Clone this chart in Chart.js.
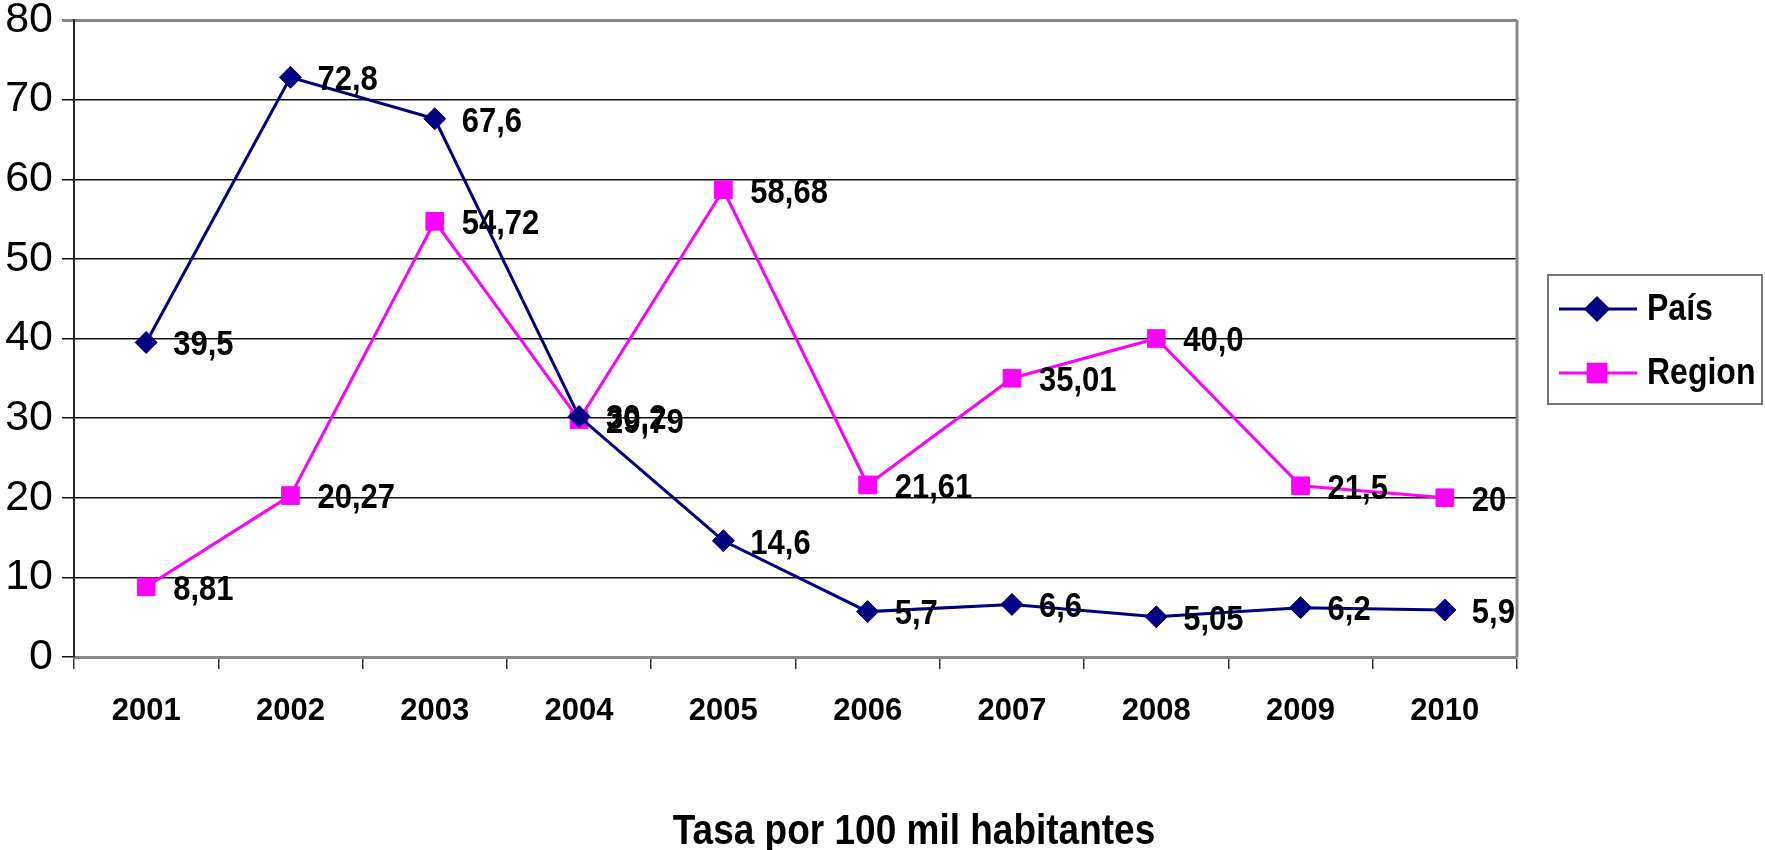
<!DOCTYPE html>
<html>
<head>
<meta charset="utf-8">
<script src="https://cdn.jsdelivr.net/npm/chart.js@4.4.1/dist/chart.umd.min.js"></script>
<style>
  html, body { margin: 0; padding: 0; background: #fff; }
  #wrap { width: 1765px; height: 850px; }
</style>
</head>
<body>
<div id="wrap"><canvas id="c" width="1765" height="850"></canvas></div>
<script>
const categories = ['2001','2002','2003','2004','2005','2006','2007','2008','2009','2010'];
const paisValues = [39.5, 72.8, 67.6, 30.2, 14.6, 5.7, 6.6, 5.05, 6.2, 5.9];
const paisLabels = ['39,5','72,8','67,6','30,2','14,6','5,7','6,6','5,05','6,2','5,9'];
const regionValues = [8.81, 20.27, 54.72, 29.79, 58.68, 21.61, 35.01, 40.0, 21.5, 20];
const regionLabels = ['8,81','20,27','54,72','29,79','58,68','21,61','35,01','40,0','21,5','20'];
const seriesNames = ['País', 'Region'];
const yMin = 0, yMax = 80, yStep = 10;
const xTitle = 'Tasa por 100 mil habitantes';

const FONT = "'Liberation Sans', Arial, sans-serif";
const PAIS_COLOR = '#000080';
const REGION_COLOR = '#FF00FF';
const STRETCH = 1.15;

function stretchedText(ctx, text, x, y) {
  ctx.save();
  ctx.translate(x, y);
  ctx.scale(1, STRETCH);
  ctx.fillText(text, 0, 0);
  ctx.restore();
}

const dataLabelPlugin = {
  id: 'dataLabels',
  afterDatasetsDraw(chart) {
    const ctx = chart.ctx;
    ctx.save();
    ctx.font = "bold 31px " + FONT;
    ctx.fillStyle = '#000';
    ctx.textAlign = 'left';
    ctx.textBaseline = 'middle';
    chart.data.datasets.forEach((ds, di) => {
      const meta = chart.getDatasetMeta(di);
      meta.data.forEach((pt, i) => {
        stretchedText(ctx, ds.valueLabels[i], pt.x + 27, pt.y + 3);
      });
    });
    ctx.restore();
  }
};

const framePlugin = {
  id: 'frame',
  beforeDatasetsDraw(chart) {
    const { ctx, chartArea } = chart;
    ctx.save();
    ctx.strokeStyle = '#888';
    ctx.lineWidth = 3;
    ctx.beginPath();
    ctx.moveTo(chartArea.right, chartArea.top);
    ctx.lineTo(chartArea.right, chartArea.bottom);
    ctx.stroke();
    ctx.restore();
  },
  afterDraw(chart) {
    const ctx = chart.ctx;
    ctx.save();
    // bottom title
    ctx.font = "bold 37px " + FONT;
    ctx.fillStyle = '#000';
    ctx.textAlign = 'center';
    ctx.textBaseline = 'middle';
    stretchedText(ctx, xTitle, 914, 832);

    // legend
    const bx = 1548, by = 275, bw = 214, bh = 129;
    ctx.fillStyle = '#fff';
    ctx.fillRect(bx, by, bw, bh);
    ctx.strokeStyle = '#777';
    ctx.lineWidth = 2;
    ctx.strokeRect(bx, by, bw, bh);
    const rows = [309, 373];
    chart.data.datasets.forEach((ds, di) => {
      const y = rows[di];
      ctx.strokeStyle = ds.borderColor;
      ctx.lineWidth = 3;
      ctx.beginPath();
      ctx.moveTo(1559, y);
      ctx.lineTo(1637, y);
      ctx.stroke();
      Chart.helpers.drawPoint(ctx, {
        pointStyle: ds.pointStyle,
        radius: ds.pointRadius,
        borderWidth: 1
      }, 1597, y);
      ctx.fillStyle = ds.borderColor;
      ctx.fill();
      ctx.font = "bold 32px " + FONT;
      ctx.fillStyle = '#000';
      ctx.textAlign = 'left';
      ctx.textBaseline = 'middle';
      stretchedText(ctx, ds.label, 1647, y + 1);
    });
    ctx.restore();
  }
};

new Chart(document.getElementById('c'), {
  type: 'line',
  data: {
    labels: categories,
    datasets: [
      {
        label: seriesNames[0],
        data: paisValues,
        valueLabels: paisLabels,
        borderColor: PAIS_COLOR,
        backgroundColor: PAIS_COLOR,
        borderWidth: 3,
        pointStyle: 'rectRot',
        pointRadius: 11,
        pointBorderWidth: 1,
        tension: 0
      },
      {
        label: seriesNames[1],
        data: regionValues,
        valueLabels: regionLabels,
        borderColor: REGION_COLOR,
        backgroundColor: REGION_COLOR,
        borderWidth: 3,
        pointStyle: 'rect',
        pointRadius: 12.5,
        pointBorderWidth: 1,
        tension: 0
      }
    ]
  },
  options: {
    responsive: false,
    animation: false,
    devicePixelRatio: 1,
    layout: { padding: { top: 20, right: 248, left: 0, bottom: 0 } },
    plugins: {
      legend: { display: false },
      tooltip: { enabled: false },
      title: { display: false }
    },
    scales: {
      x: {
        type: 'category',
        offset: true,
        grid: {
          offset: true,
          drawOnChartArea: false,
          drawTicks: true,
          tickLength: 12,
          color: '#333',
          lineWidth: 1.5
        },
        border: { color: '#888', width: 3 },
        ticks: {
          color: '#000',
          font: { family: FONT, size: 31, weight: 'bold' },
          padding: 24,
          maxRotation: 0,
          autoSkip: false
        },
        afterFit(scale) {
          scale.height = 193;
          scale.paddingLeft = 0;
          scale.paddingRight = 0;
        }
      },
      y: {
        min: yMin,
        max: yMax,
        ticks: {
          stepSize: yStep,
          color: '#000',
          font: { family: FONT, size: 43 },
          padding: 9
        },
        grid: {
          color: (c) => (c.tick && c.tick.value === yMax) ? '#888' : '#111',
          lineWidth: (c) => (c.tick && c.tick.value === yMax) ? 3 : 1.5,
          tickLength: 12
        },
        border: { color: '#222', width: 2 },
        afterFit(scale) {
          scale.width = 74;
          scale.paddingTop = 0;
          scale.paddingBottom = 0;
        }
      }
    }
  },
  plugins: [framePlugin, dataLabelPlugin]
});
</script>
</body>
</html>
